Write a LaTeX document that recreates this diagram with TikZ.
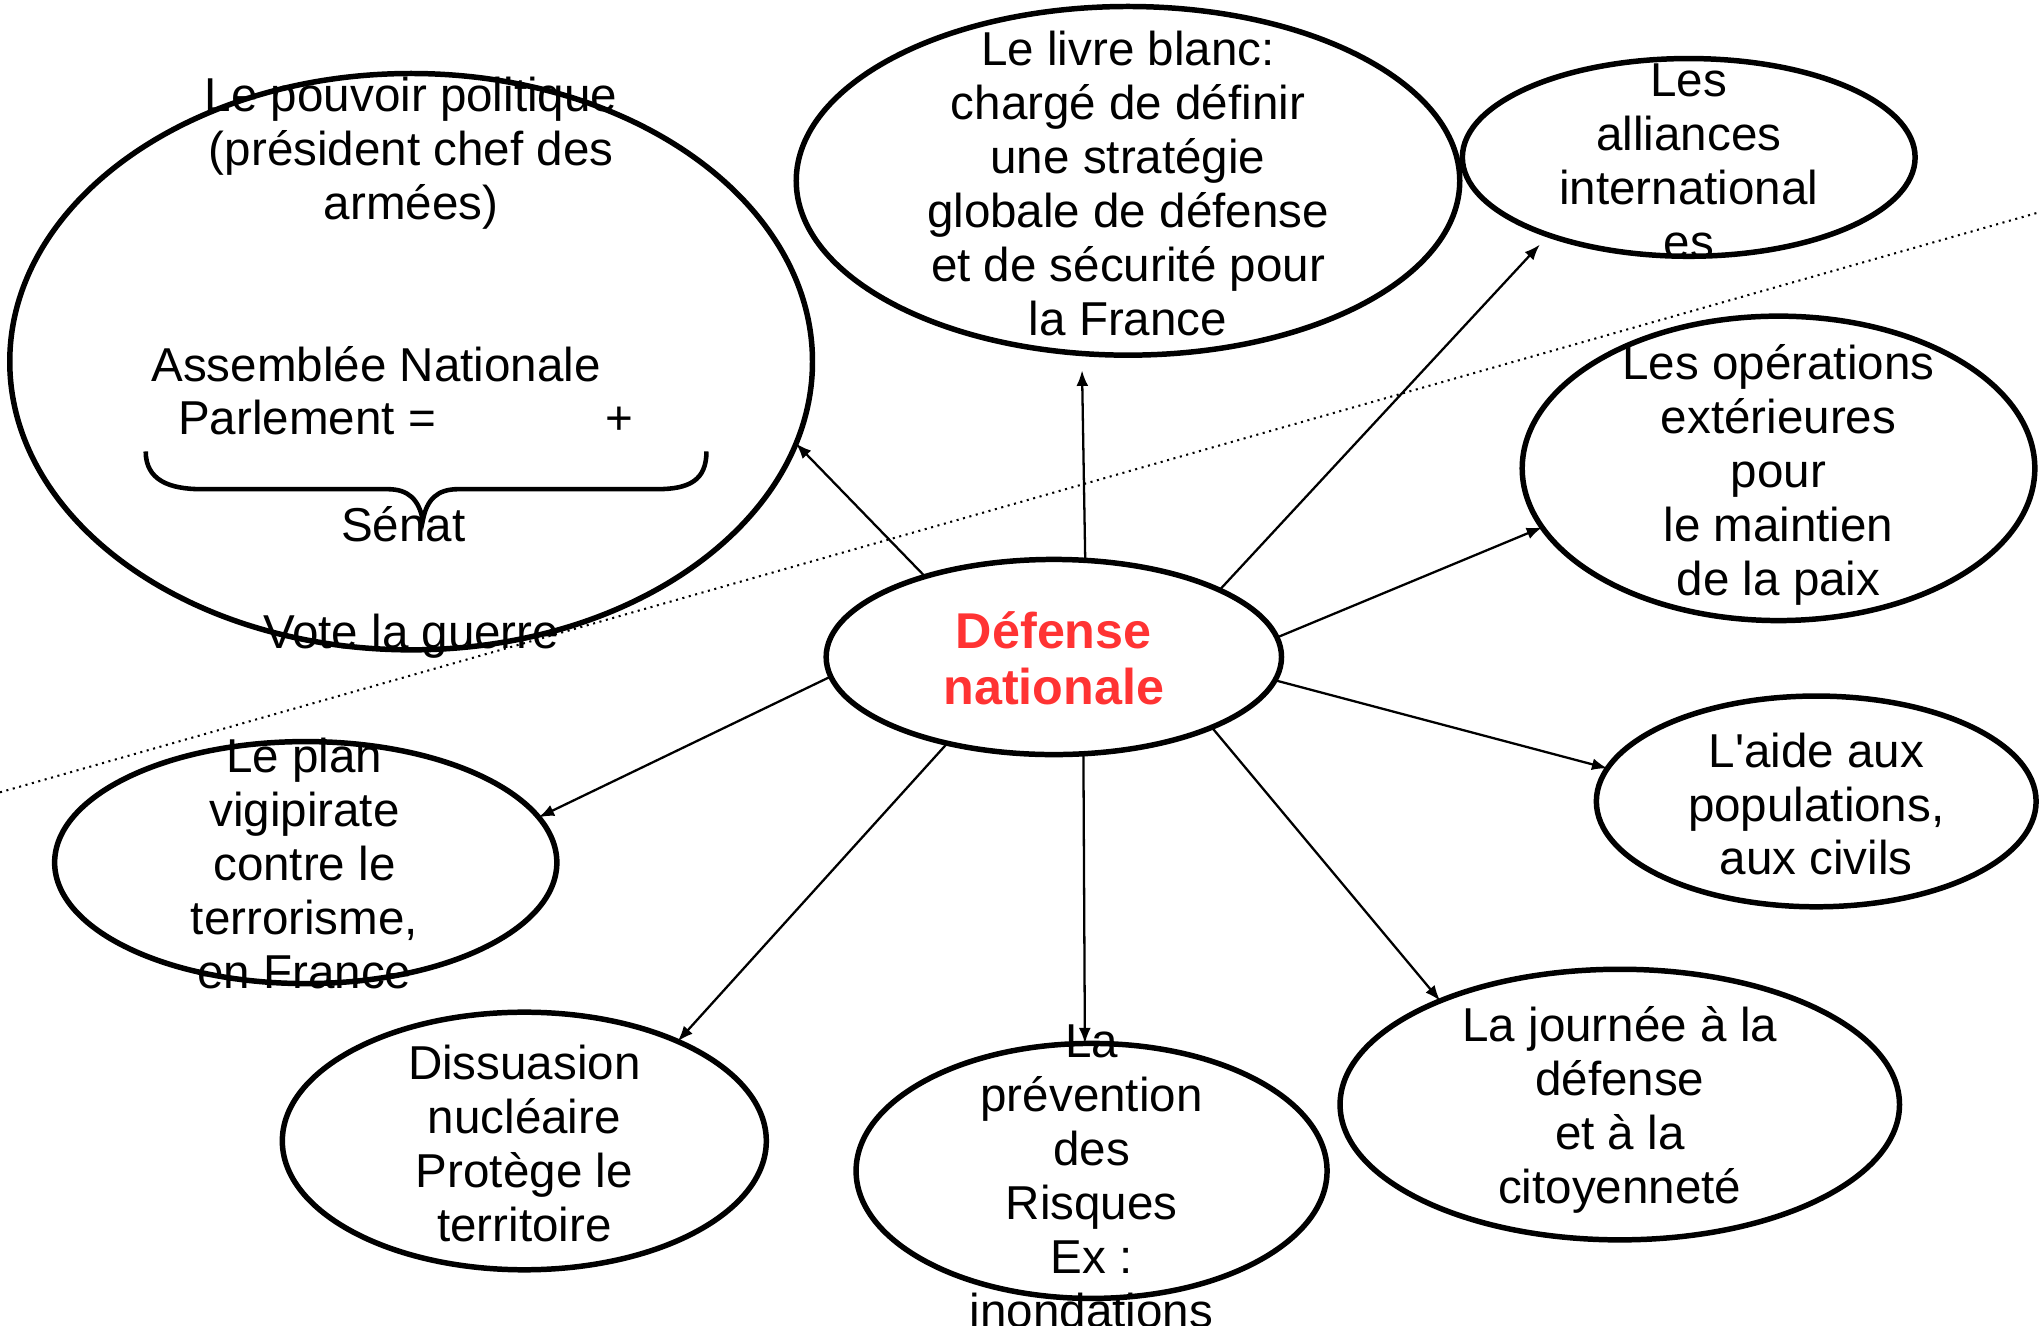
\documentclass[tikz,border=0pt]{standalone}
\usepackage{fontspec}
\setmainfont{Liberation Sans}
\usepackage{xcolor}
\usetikzlibrary{shapes.geometric,arrows.meta}
\definecolor{defred}{RGB}{255,51,51}

\begin{document}
\begin{tikzpicture}[
  bubble/.style={draw, ellipse, line width=1.2pt, inner sep=0pt, outer sep=0pt},
  txt/.style={align=center, inner sep=0pt, font=\fontsize{10.4}{11.8}\selectfont},
  link/.style={-{Latex[length=3.4pt,width=2.6pt]}, line width=0.5pt}
]
\useasboundingbox (0,0) rectangle (15.68,10.19);

\foreach \n/\x/\y/\w/\h in {def/8.10/5.14/3.50/1.50, pol/3.16/7.41/6.17/4.43,
  livre/8.67/8.80/5.10/2.68, alli/12.98/8.98/3.48/1.52, opex/13.67/6.59/3.94/2.34,
  aide/13.96/4.03/3.38/1.62, jdc/12.45/1.70/4.30/2.08, prev/8.39/1.19/3.62/1.96,
  diss/4.03/1.42/3.72/1.98, vigi/2.35/3.56/3.86/1.86}
\node[bubble, minimum width=\w cm, minimum height=\h cm] (\n) at (\x,\y) {};

\node[txt, text=defred, font=\fontsize{11}{12.3}\selectfont\bfseries] (defT) at (8.10,5.13) {Défense\\nationale};
\node[txt] (polT) at (3.16,9.01) {Le pouvoir politique\\(président chef des\\armées)};
\node[txt] (assT) at (2.89,7.39) {Assemblée Nationale};
\node[txt, anchor=base] (parlT) at (2.36,6.85) {Parlement =};
\node[txt, anchor=base] (plusT) at (4.76,6.85) {+};
\node[txt] (senT) at (3.10,6.16) {Sénat};
\node[txt] (voteT) at (3.16,5.30) {Vote la guerre};
\node[txt] (livreT) at (8.67,8.78) {Le livre blanc:\\chargé de définir\\une stratégie\\globale de défense\\et de sécurité pour\\la France};
\node[txt] (alliT) at (12.98,8.95) {Les\\alliances\\international\\es};
\node[txt] (opexT) at (13.67,6.54) {Les opérations\\extérieures\\pour\\le maintien\\de la paix};
\node[txt] (aideT) at (13.96,4.01) {L\textquotesingle aide aux\\populations,\\aux civils};
\node[txt] (jdcT) at (12.45,1.66) {La journée à la\\défense\\et à la\\citoyenneté};
\node[txt] (prevT) at (8.39,1.15) {La\\prévention\\des\\Risques\\Ex :\\inondations};
\node[txt] (dissT) at (4.03,1.40) {Dissuasion\\nucléaire\\Protège le\\territoire};
\node[txt] (vigiT) at (2.34,3.55) {Le plan\\vigipirate\\contre le\\terrorisme,\\en France};

\draw[line width=1pt] (1.12,6.72) .. controls (1.12,6.50) and (1.30,6.43) .. (1.55,6.43) -- (2.98,6.43)
  .. controls (3.14,6.43) and (3.22,6.35) .. (3.25,6.19) .. controls (3.28,6.35) and (3.36,6.43) .. (3.52,6.43)
  -- (5.05,6.43) .. controls (5.30,6.43) and (5.43,6.50) .. (5.43,6.72);

\foreach \a/\t/\b/\s in {148.5/pol/348.5/0, 72.9/livre/255.7/1.3, 22.1/alli/209.3/1,
  5.5/opex/194.3/0, 354.1/aide/171.3/0, 336.7/jdc/150.2/0, 287/prev/93.5/0,
  219/diss/33/0, 185.9/vigi/11.4/0}
\draw[link, shorten >=\s mm] (def.\a) -- (\t.\b);

\coordinate (cutL) at (0,4.10);
\coordinate (cutR) at (15.68,8.56);
\draw[densely dotted, line width=0.45pt] (cutL) -- (cutR);
\end{tikzpicture}
\end{document}
